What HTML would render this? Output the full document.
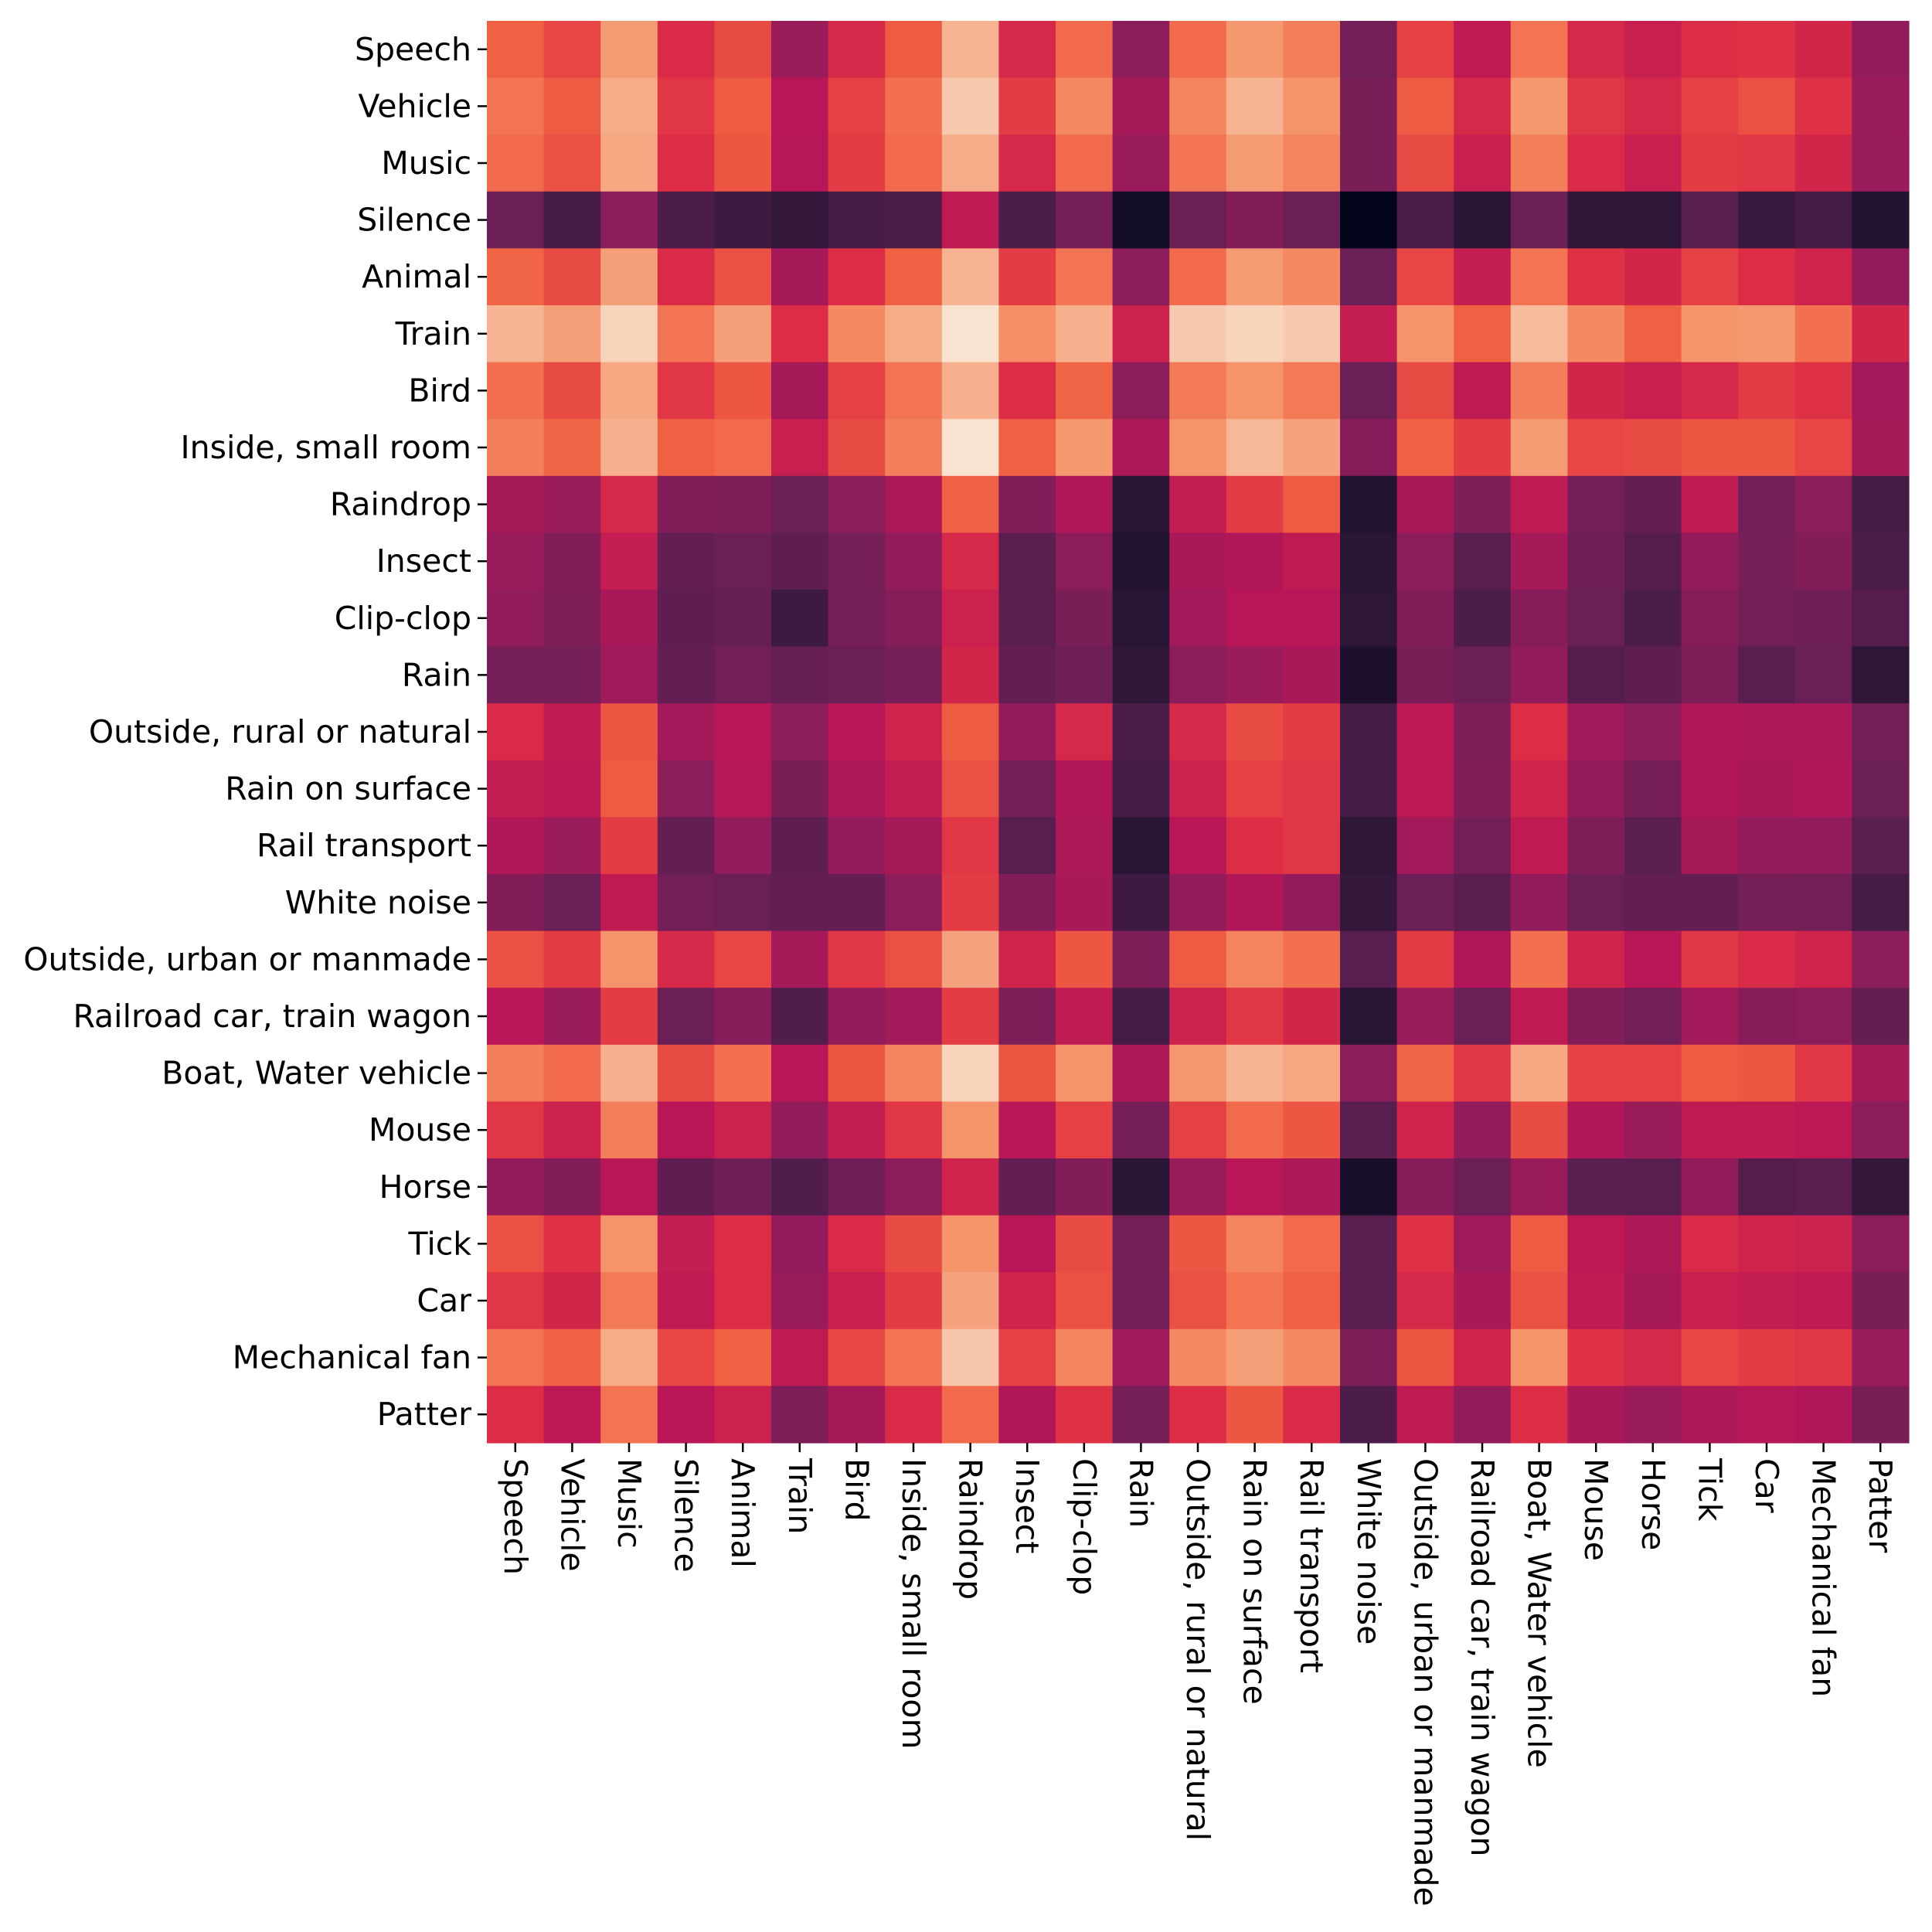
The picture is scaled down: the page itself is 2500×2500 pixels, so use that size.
<!DOCTYPE html>
<html><head><meta charset="utf-8"><style>
html,body{margin:0;padding:0;background:#fff;}
svg{display:block;font-family:"DejaVu Sans","Liberation Sans",sans-serif;}
</style></head><body>
<svg id="chart" width="2500" height="2500" viewBox="0 0 2500 2500" xmlns="http://www.w3.org/2000/svg">
<g id="cells"></g>
<g id="ylab"></g>
<g id="xlab"></g>
</svg>
<script>
const labels = ["Speech","Vehicle","Music","Silence","Animal","Train","Bird","Inside, small room","Raindrop","Insect","Clip-clop","Rain","Outside, rural or natural","Rain on surface","Rail transport","White noise","Outside, urban or manmade","Railroad car, train wagon","Boat, Water vehicle","Mouse","Horse","Tick","Car","Mechanical fan","Patter"];
const values = [
[0.70,0.65,0.82,0.59,0.66,0.42,0.58,0.69,0.88,0.58,0.72,0.38,0.72,0.81,0.76,0.32,0.64,0.52,0.74,0.58,0.54,0.60,0.61,0.57,0.40],
[0.74,0.69,0.86,0.62,0.69,0.50,0.64,0.73,0.93,0.63,0.78,0.45,0.77,0.88,0.80,0.34,0.69,0.58,0.81,0.62,0.58,0.64,0.67,0.61,0.42],
[0.72,0.67,0.85,0.60,0.68,0.49,0.63,0.72,0.86,0.58,0.72,0.42,0.74,0.82,0.77,0.34,0.66,0.54,0.76,0.59,0.54,0.63,0.62,0.57,0.42],
[0.30,0.20,0.38,0.22,0.18,0.15,0.20,0.22,0.52,0.22,0.33,0.05,0.30,0.36,0.30,0.00,0.22,0.12,0.30,0.14,0.13,0.25,0.16,0.20,0.10],
[0.71,0.66,0.83,0.59,0.67,0.45,0.60,0.70,0.88,0.63,0.74,0.38,0.72,0.82,0.78,0.30,0.65,0.53,0.74,0.61,0.57,0.64,0.60,0.56,0.40],
[0.88,0.83,0.95,0.74,0.83,0.60,0.78,0.86,0.98,0.79,0.87,0.55,0.93,0.95,0.93,0.53,0.80,0.70,0.90,0.78,0.70,0.80,0.81,0.73,0.57],
[0.73,0.66,0.85,0.62,0.68,0.45,0.64,0.74,0.87,0.60,0.71,0.38,0.75,0.80,0.75,0.30,0.66,0.52,0.76,0.57,0.54,0.58,0.63,0.61,0.44],
[0.76,0.71,0.87,0.70,0.72,0.54,0.66,0.76,0.98,0.70,0.81,0.47,0.80,0.89,0.84,0.37,0.70,0.63,0.82,0.65,0.66,0.68,0.68,0.65,0.45],
[0.45,0.42,0.58,0.36,0.35,0.30,0.38,0.47,0.70,0.36,0.48,0.12,0.53,0.63,0.69,0.10,0.46,0.35,0.52,0.33,0.28,0.52,0.32,0.38,0.20],
[0.42,0.36,0.53,0.28,0.30,0.27,0.33,0.40,0.58,0.26,0.38,0.10,0.46,0.48,0.52,0.12,0.38,0.25,0.45,0.31,0.24,0.40,0.33,0.36,0.22],
[0.40,0.35,0.46,0.27,0.29,0.18,0.33,0.37,0.55,0.26,0.34,0.12,0.44,0.50,0.50,0.13,0.36,0.22,0.37,0.30,0.22,0.37,0.32,0.31,0.24],
[0.33,0.33,0.43,0.28,0.32,0.29,0.30,0.33,0.57,0.28,0.31,0.14,0.38,0.42,0.46,0.08,0.34,0.30,0.40,0.24,0.27,0.35,0.25,0.30,0.13],
[0.59,0.52,0.68,0.44,0.50,0.38,0.50,0.56,0.69,0.40,0.58,0.22,0.58,0.66,0.63,0.20,0.51,0.35,0.60,0.43,0.38,0.48,0.47,0.47,0.32],
[0.53,0.51,0.69,0.38,0.49,0.34,0.47,0.53,0.67,0.32,0.48,0.20,0.55,0.64,0.62,0.20,0.51,0.36,0.56,0.40,0.33,0.48,0.46,0.48,0.30],
[0.48,0.42,0.63,0.28,0.40,0.27,0.40,0.45,0.62,0.25,0.47,0.12,0.50,0.60,0.62,0.13,0.44,0.32,0.52,0.35,0.26,0.45,0.40,0.40,0.26],
[0.36,0.30,0.52,0.32,0.30,0.28,0.28,0.38,0.63,0.36,0.46,0.18,0.40,0.48,0.40,0.15,0.30,0.26,0.40,0.30,0.28,0.28,0.33,0.32,0.20],
[0.67,0.63,0.80,0.58,0.65,0.45,0.62,0.67,0.84,0.56,0.68,0.35,0.69,0.77,0.73,0.25,0.63,0.48,0.73,0.56,0.50,0.62,0.59,0.56,0.38],
[0.50,0.42,0.63,0.30,0.37,0.23,0.40,0.44,0.63,0.35,0.52,0.20,0.55,0.62,0.57,0.12,0.42,0.30,0.52,0.36,0.32,0.44,0.37,0.38,0.28],
[0.76,0.72,0.87,0.66,0.73,0.50,0.68,0.77,0.95,0.68,0.80,0.47,0.81,0.88,0.85,0.38,0.71,0.62,0.85,0.64,0.64,0.69,0.68,0.62,0.45],
[0.62,0.55,0.76,0.50,0.55,0.40,0.53,0.62,0.80,0.50,0.64,0.33,0.64,0.72,0.68,0.25,0.56,0.40,0.66,0.48,0.42,0.52,0.52,0.51,0.38],
[0.40,0.36,0.50,0.27,0.31,0.23,0.31,0.38,0.56,0.28,0.36,0.12,0.42,0.50,0.47,0.07,0.37,0.30,0.42,0.26,0.25,0.40,0.24,0.26,0.15],
[0.67,0.61,0.80,0.53,0.60,0.40,0.59,0.66,0.80,0.50,0.66,0.32,0.68,0.77,0.72,0.25,0.61,0.43,0.69,0.51,0.47,0.59,0.56,0.55,0.38],
[0.62,0.57,0.75,0.52,0.60,0.42,0.54,0.63,0.84,0.56,0.67,0.32,0.67,0.74,0.70,0.25,0.58,0.46,0.67,0.52,0.45,0.54,0.53,0.52,0.34],
[0.74,0.70,0.86,0.65,0.70,0.52,0.65,0.74,0.92,0.64,0.77,0.43,0.78,0.83,0.78,0.35,0.68,0.56,0.80,0.61,0.58,0.65,0.63,0.62,0.42],
[0.60,0.51,0.74,0.50,0.55,0.35,0.45,0.59,0.72,0.48,0.61,0.33,0.60,0.68,0.59,0.22,0.52,0.40,0.60,0.46,0.42,0.47,0.49,0.48,0.34]
];
const rocket = ["#03051a","#221331","#451c47","#6a1f56","#921c5b","#b91657","#dd2c45","#f06043","#f5936a","#f6bc9c","#faebdd"];
const X0=630, Y0=27, W=1840, H=1840;
const NS="http://www.w3.org/2000/svg";
function hex(c){return [1,3,5].map(i=>parseInt(c.substr(i,2),16));}
function color(v){v=Math.max(0,Math.min(1,v));const p=v*10,i=Math.min(9,Math.floor(p)),t=p-i;const a=hex(rocket[i]),b=hex(rocket[i+1]);return "rgb("+a.map((x,k)=>Math.round(x+(b[k]-x)*t)).join(",")+")";}
const n=labels.length, cw=W/n, ch=H/n;
function xs(j){return X0+j*cw;}
function ys(i){return Y0+i*ch;}
const cells=document.getElementById('cells');
for(let i=0;i<n;i++)for(let j=0;j<n;j++){
  const r=document.createElementNS(NS,'rect');
  r.setAttribute('x',xs(j));r.setAttribute('y',ys(i));
  r.setAttribute('width',cw+0.6);r.setAttribute('height',ch+0.6);
  r.setAttribute('fill',color(values[i][j]));
  
  
  cells.appendChild(r);
}
const yl=document.getElementById('ylab'), xl=document.getElementById('xlab');
for(let i=0;i<n;i++){
  const cy=ys(i)+ch/2;
  const tk=document.createElementNS(NS,'line');
  tk.setAttribute('x1',X0-12);tk.setAttribute('x2',X0);tk.setAttribute('y1',cy);tk.setAttribute('y2',cy);
  tk.setAttribute('stroke','#000');tk.setAttribute('stroke-width','2.5');
  
  
  yl.appendChild(tk);
  const t=document.createElementNS(NS,'text');
  t.setAttribute('x',X0-20);t.setAttribute('y',cy);t.setAttribute('text-anchor','end');
  t.setAttribute('dominant-baseline','central');t.setAttribute('font-size','41');
  t.textContent=labels[i];
  
  
  yl.appendChild(t);
}
for(let j=0;j<n;j++){
  const cx=xs(j)+cw/2, by=Y0+H;
  const tk=document.createElementNS(NS,'line');
  tk.setAttribute('x1',cx);tk.setAttribute('x2',cx);tk.setAttribute('y1',by);tk.setAttribute('y2',by+12);
  tk.setAttribute('stroke','#000');tk.setAttribute('stroke-width','2.5');
  
  
  xl.appendChild(tk);
  const t=document.createElementNS(NS,'text');
  t.setAttribute('transform','translate('+cx+','+(by+20)+') rotate(90)');
  t.setAttribute('text-anchor','start');t.setAttribute('dominant-baseline','central');
  t.setAttribute('font-size','41');
  t.textContent=labels[j];
  
  
  xl.appendChild(t);
}
</script>
</body></html>
